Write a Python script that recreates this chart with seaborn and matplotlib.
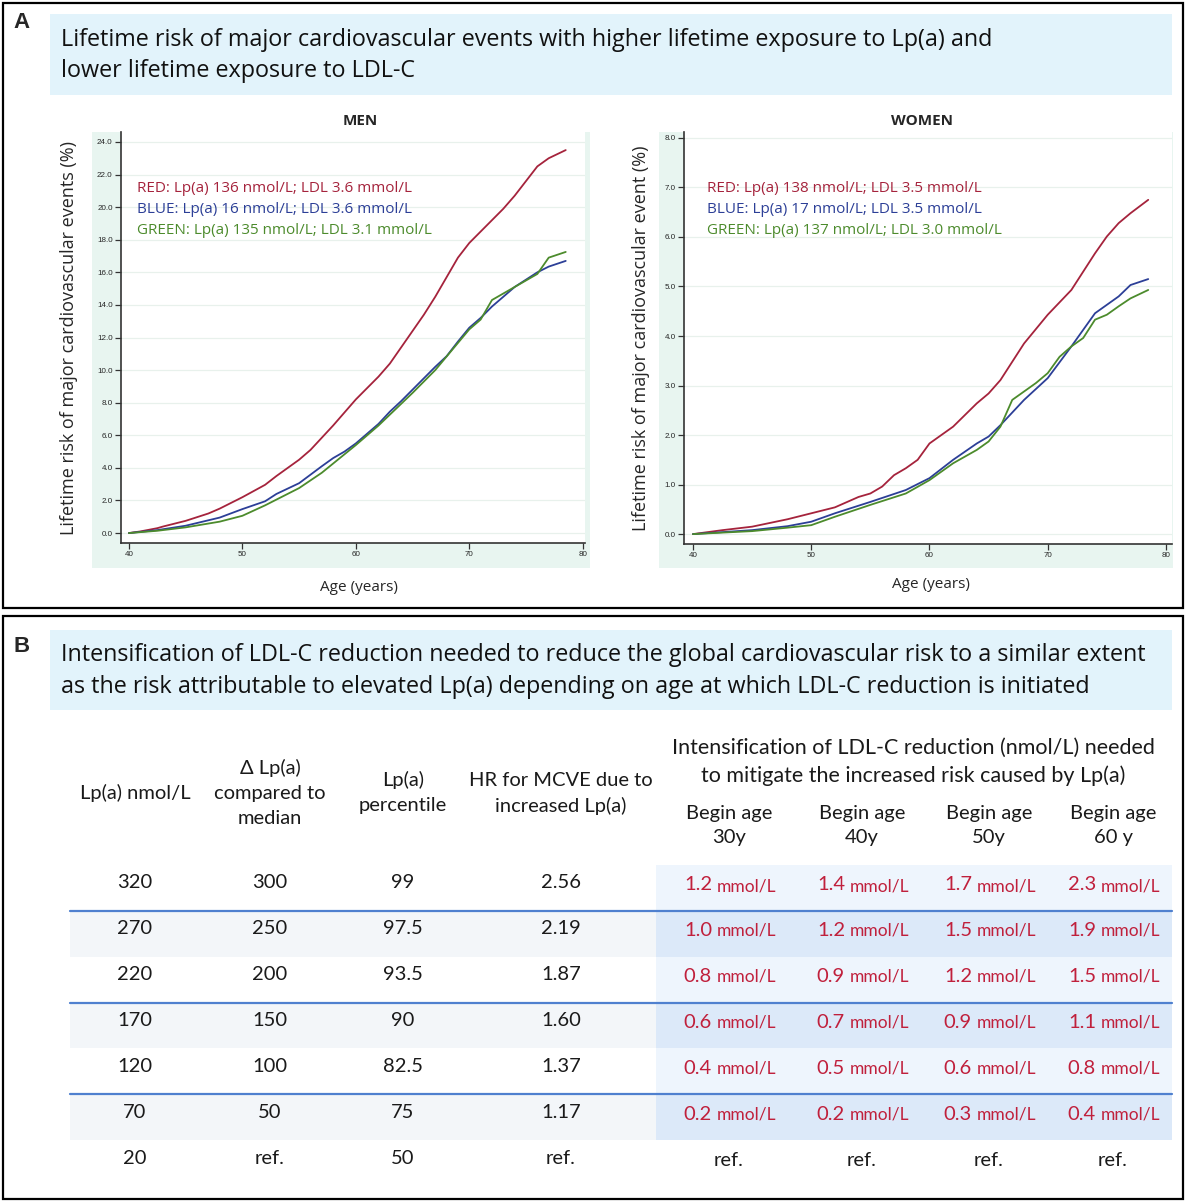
import numpy as np
import pandas as pd
import matplotlib
matplotlib.use("Agg")
import matplotlib.pyplot as plt
from matplotlib.patches import Rectangle
from matplotlib.lines import Line2D
import seaborn as sns

# ---------------- DATA ----------------
men_age_red = [40, 41, 42.5, 43, 45, 47, 48, 50, 52, 53, 54, 55, 56, 57, 58, 59, 60, 61, 62, 63, 64, 65, 66, 67, 68, 69, 70, 71, 72, 73, 74, 75, 76, 77, 78.5]
men_red = [0.0, 0.1, 0.3, 0.4, 0.75, 1.2, 1.5, 2.2, 2.96, 3.5, 4.0, 4.5, 5.1, 5.85, 6.6, 7.4, 8.2, 8.9, 9.6, 10.4, 11.4, 12.4, 13.4, 14.5, 15.7, 16.9, 17.8, 18.5, 19.2, 19.9, 20.7, 21.6, 22.5, 23.0, 23.5]
men_age_blue = [40, 42.5, 45, 48, 50, 52, 53, 55, 57, 58, 59, 60, 61, 62, 63, 64, 65, 66, 67, 68, 69, 70, 71, 72, 73, 74, 75, 76, 77, 78.5]
men_blue = [0.0, 0.18, 0.45, 0.95, 1.47, 1.95, 2.4, 3.06, 4.1, 4.6, 5.0, 5.5, 6.1, 6.7, 7.45, 8.1, 8.8, 9.5, 10.2, 10.85, 11.75, 12.6, 13.2, 13.9, 14.5, 15.1, 15.55, 16.0, 16.35, 16.7]
men_age_green = [40, 42.5, 45, 48, 50, 52, 55, 57, 60, 62, 65, 67, 70, 71, 72, 74, 76, 77, 78.5]
men_green = [0.0, 0.14, 0.35, 0.7, 1.06, 1.7, 2.76, 3.7, 5.4, 6.6, 8.6, 10.0, 12.5, 13.1, 14.3, 15.1, 15.9, 16.9, 17.25]

women_age_red = [40, 42.5, 45, 48, 50, 52, 54, 55, 56, 57, 58, 59, 60, 62, 64, 65, 66, 68, 70, 72, 74, 75, 76, 77, 78.5]
women_red = [0.0, 0.08, 0.15, 0.3, 0.42, 0.54, 0.75, 0.82, 0.96, 1.19, 1.33, 1.5, 1.83, 2.17, 2.64, 2.84, 3.11, 3.85, 4.43, 4.93, 5.67, 6.01, 6.28, 6.48, 6.75]
women_age_blue = [40, 42.5, 45, 48, 50, 52, 55, 58, 60, 62, 64, 65, 66, 68, 70, 72, 74, 76, 77, 78.5]
women_blue = [0.0, 0.04, 0.08, 0.16, 0.25, 0.42, 0.65, 0.89, 1.13, 1.5, 1.83, 1.97, 2.2, 2.71, 3.15, 3.79, 4.46, 4.8, 5.03, 5.15]
women_age_green = [40, 42.5, 45, 48, 50, 52, 55, 58, 60, 62, 64, 65, 66, 67, 68, 69, 70, 71, 72, 73, 74, 75, 76, 77, 78.5]
women_green = [0.0, 0.03, 0.06, 0.13, 0.18, 0.35, 0.59, 0.82, 1.09, 1.43, 1.7, 1.87, 2.17, 2.71, 2.88, 3.05, 3.25, 3.58, 3.79, 3.96, 4.33, 4.43, 4.6, 4.76, 4.93]

men_labels = ["RED: Lp(a) 136 nmol/L; LDL 3.6 mmol/L",
              "BLUE: Lp(a) 16 nmol/L; LDL 3.6 mmol/L",
              "GREEN: Lp(a) 135 nmol/L; LDL 3.1 mmol/L"]
women_labels = ["RED: Lp(a) 138 nmol/L; LDL 3.5 mmol/L",
                "BLUE: Lp(a) 17 nmol/L; LDL 3.5 mmol/L",
                "GREEN: Lp(a) 137 nmol/L; LDL 3.0 mmol/L"]

title_a = ["Lifetime risk of major cardiovascular events with higher lifetime exposure to Lp(a) and",
           "lower lifetime exposure to LDL-C"]
title_b = ["Intensification of LDL-C reduction needed to reduce the global cardiovascular risk to a similar extent",
           "as the risk attributable to elevated Lp(a) depending on age at which LDL-C reduction is initiated"]

col_lpa = ["320", "270", "220", "170", "120", "70", "20"]
col_delta = ["300", "250", "200", "150", "100", "50", "ref."]
col_pct = ["99", "97.5", "93.5", "90", "82.5", "75", "50"]
col_hr = ["2.56", "2.19", "1.87", "1.60", "1.37", "1.17", "ref."]
ldl_30 = ["1.2", "1.0", "0.8", "0.6", "0.4", "0.2", "ref."]
ldl_40 = ["1.4", "1.2", "0.9", "0.7", "0.5", "0.2", "ref."]
ldl_50 = ["1.7", "1.5", "1.2", "0.9", "0.6", "0.3", "ref."]
ldl_60 = ["2.3", "1.9", "1.5", "1.1", "0.8", "0.4", "ref."]
begin_ages = ["30y", "40y", "50y", "60 y"]

# ---------------- STYLE ----------------
sns.set_theme(style="white")
plt.rcParams['font.family'] = ['Lato', 'DejaVu Sans']
W, H = 1185, 1201
fig = plt.figure(figsize=(W / 100, H / 100), dpi=100)

def fx(px):
    return px / W

def fy(py):
    return 1 - py / H

def frect(x0, y0, x1, y1, **kw):
    fig.patches.append(Rectangle((fx(x0), fy(y1)), fx(x1) - fx(x0), fy(y0) - fy(y1),
                                 transform=fig.transFigure, **kw))

def ftext(x, y, s, **kw):
    fig.text(fx(x), fy(y), s, **kw)

RED, BLUE, GREEN = "#a5233c", "#2c3f97", "#4c8b2c"
TFONT = ['Open Sans', 'DejaVu Sans']

# panel frames
frect(3, 3, 1183, 608, facecolor="none", edgecolor="black", lw=1.6, zorder=-1)
frect(3, 616, 1183, 1199, facecolor="none", edgecolor="black", lw=1.6, zorder=-1)
# title boxes
frect(50, 14, 1172, 95, facecolor="#e2f3fb", edgecolor="none", zorder=-5)
frect(50, 630, 1172, 710, facecolor="#e2f3fb", edgecolor="none", zorder=-5)
ftext(22, 22, "A", fontsize=16, fontweight="bold", family=['Liberation Sans', 'DejaVu Sans'], ha="center", va="center")
ftext(22, 647, "B", fontsize=16, fontweight="bold", family=['Liberation Sans', 'DejaVu Sans'], ha="center", va="center")
for i, line in enumerate(title_a):
    ftext(61, 40 + 31 * i, line, fontsize=16.85, family=TFONT, ha="left", va="center", color="#111111")
for i, line in enumerate(title_b):
    ftext(61, 655 + 32 * i, line, fontsize=16.8, family=TFONT, ha="left", va="center", color="#111111")

# green graph regions
frect(92, 132, 590, 568, facecolor="#e8f5f0", edgecolor="none", zorder=-5)
frect(659, 132, 1173, 568, facecolor="#e8f5f0", edgecolor="none", zorder=-5)

def make_panel(box, xlim, ylim, yticks, series, labels, title, title_x, ylabel, ylab_x, xlab_y, xlab_x, leg_x):
    x0, y0, x1, y1 = box
    ax = fig.add_axes([fx(x0), fy(y1), fx(x1) - fx(x0), fy(y0) - fy(y1)])
    ax.set_facecolor("white")
    for ages, vals, col in series:
        df = pd.DataFrame({"age": ages, "risk": vals})
        sns.lineplot(data=df, x="age", y="risk", color=col, lw=1.3, ax=ax, sort=False)
    ax.set_xlim(*xlim)
    ax.set_ylim(*ylim)
    ax.set_xticks([40, 50, 60, 70, 80])
    ax.set_yticks(yticks)
    ax.set_yticklabels([f"{t:.1f}" for t in yticks])
    for t in yticks:
        ax.axhline(t, color="#e8f1ec", lw=0.9, zorder=0)
    for s in ["top", "right"]:
        ax.spines[s].set_visible(False)
    for s in ["left", "bottom"]:
        ax.spines[s].set_color("#333333")
        ax.spines[s].set_linewidth(1.2)
    ax.tick_params(axis="both", which="both", length=4, width=0.9, color="#333333",
                   labelsize=5.8, pad=2, direction="out", bottom=True, left=True)
    for lab in ax.get_xticklabels() + ax.get_yticklabels():
        lab.set_family(['Liberation Sans Narrow', 'Liberation Sans', 'DejaVu Sans'])
    ax.set_xlabel("")
    ax.set_ylabel("")
    ax.grid(False)
    ftext(title_x, 121, title, fontsize=11, fontweight="bold", family=TFONT, ha="center", va="center")
    ftext(ylab_x, 338, ylabel, fontsize=13, family=TFONT, ha="center", va="center", rotation=90)
    ftext(xlab_x, xlab_y, "Age (years)", fontsize=11, family=TFONT, ha="center", va="center")
    for i, (lab, col) in enumerate(zip(labels, [RED, BLUE, GREEN])):
        ftext(leg_x, 188 + 21.5 * i, lab, fontsize=11, family=TFONT, color=col, ha="left", va="center")
    return ax

make_panel((121, 132, 585, 543), (39.3, 80.2), (-0.61, 24.61), [0, 2, 4, 6, 8, 10, 12, 14, 16, 18, 20, 22, 24],
           [(men_age_red, men_red, RED), (men_age_blue, men_blue, BLUE), (men_age_green, men_green, GREEN)],
           men_labels, "MEN", 360, "Lifetime risk of major cardiovascular events (%)", 69, 588, 359, 137)
make_panel((684, 132, 1172, 544), (39.24, 80.51), (-0.2, 8.12), [0, 1, 2, 3, 4, 5, 6, 7, 8],
           [(women_age_red, women_red, RED), (women_age_blue, women_blue, BLUE), (women_age_green, women_green, GREEN)],
           women_labels, "WOMEN", 922, "Lifetime risk of major cardiovascular event (%)", 641, 585, 931, 707)

# ---------------- TABLE ----------------
row_y = [883, 928, 974, 1020, 1066, 1112, 1158]
bounds = [865, 911, 957, 1003, 1048, 1094, 1140]
col_x = [135, 270, 403, 561, 729, 862, 989, 1113]
TXT = "#1a1a1a"
TRED = "#c0203c"
FS = 14.5

for i in range(6):
    top, bot = bounds[i], bounds[i + 1]
    if i % 2 == 1:
        frect(70, top, 656, bot, facecolor="#f3f6f9", edgecolor="none", zorder=-5)
        frect(656, top, 1172, bot, facecolor="#dce9f9", edgecolor="none", zorder=-5)
    else:
        frect(656, top, 1172, bot, facecolor="#eef5fd", edgecolor="none", zorder=-5)
for yb in [911, 1003, 1094]:
    fig.add_artist(Line2D([fx(70), fx(1172)], [fy(yb), fy(yb)], transform=fig.transFigure,
                          color="#4f80cf", lw=1.6))

# headers
ftext(col_x[0], 793, "Lp(a) nmol/L", fontsize=FS, color=TXT, ha="center", va="center")
for j, s in enumerate(["Δ Lp(a)", "compared to", "median"]):
    ftext(col_x[1], 768 + 25 * j, s, fontsize=FS, color=TXT, ha="center", va="center")
for j, s in enumerate(["Lp(a)", "percentile"]):
    ftext(col_x[2], 780 + 26 * j, s, fontsize=FS, color=TXT, ha="center", va="center")
for j, s in enumerate(["HR for MCVE due to", "increased Lp(a)"]):
    ftext(col_x[3], 780 + 26 * j, s, fontsize=FS, color=TXT, ha="center", va="center")
for j, s in enumerate(["Intensification of LDL-C reduction (nmol/L) needed",
                       "to mitigate the increased risk caused by Lp(a)"]):
    ftext(913, 748 + 28 * j, s, fontsize=15.5, color=TXT, ha="center", va="center")
for k, a in enumerate(begin_ages):
    ftext(col_x[4 + k], 814, "Begin age", fontsize=FS, color=TXT, ha="center", va="center")
    ftext(col_x[4 + k], 838, a, fontsize=FS, color=TXT, ha="center", va="center")

for r in range(7):
    y = row_y[r]
    for c, col in enumerate([col_lpa, col_delta, col_pct, col_hr]):
        ftext(col_x[c], y, col[r], fontsize=FS, color=TXT, ha="center", va="center")
    for k, col in enumerate([ldl_30, ldl_40, ldl_50, ldl_60]):
        cx = col_x[4 + k]
        v = col[r]
        if v == "ref.":
            ftext(cx, y + 2, v, fontsize=FS, color=TXT, ha="center", va="center")
        else:
            ftext(cx - 17, y + 2, v, fontsize=FS, color=TRED, ha="right", va="center")
            ftext(cx - 12, y + 3, "mmol/L", fontsize=12.5, color=TRED, ha="left", va="center")

fig.savefig("out.png", dpi=100)
